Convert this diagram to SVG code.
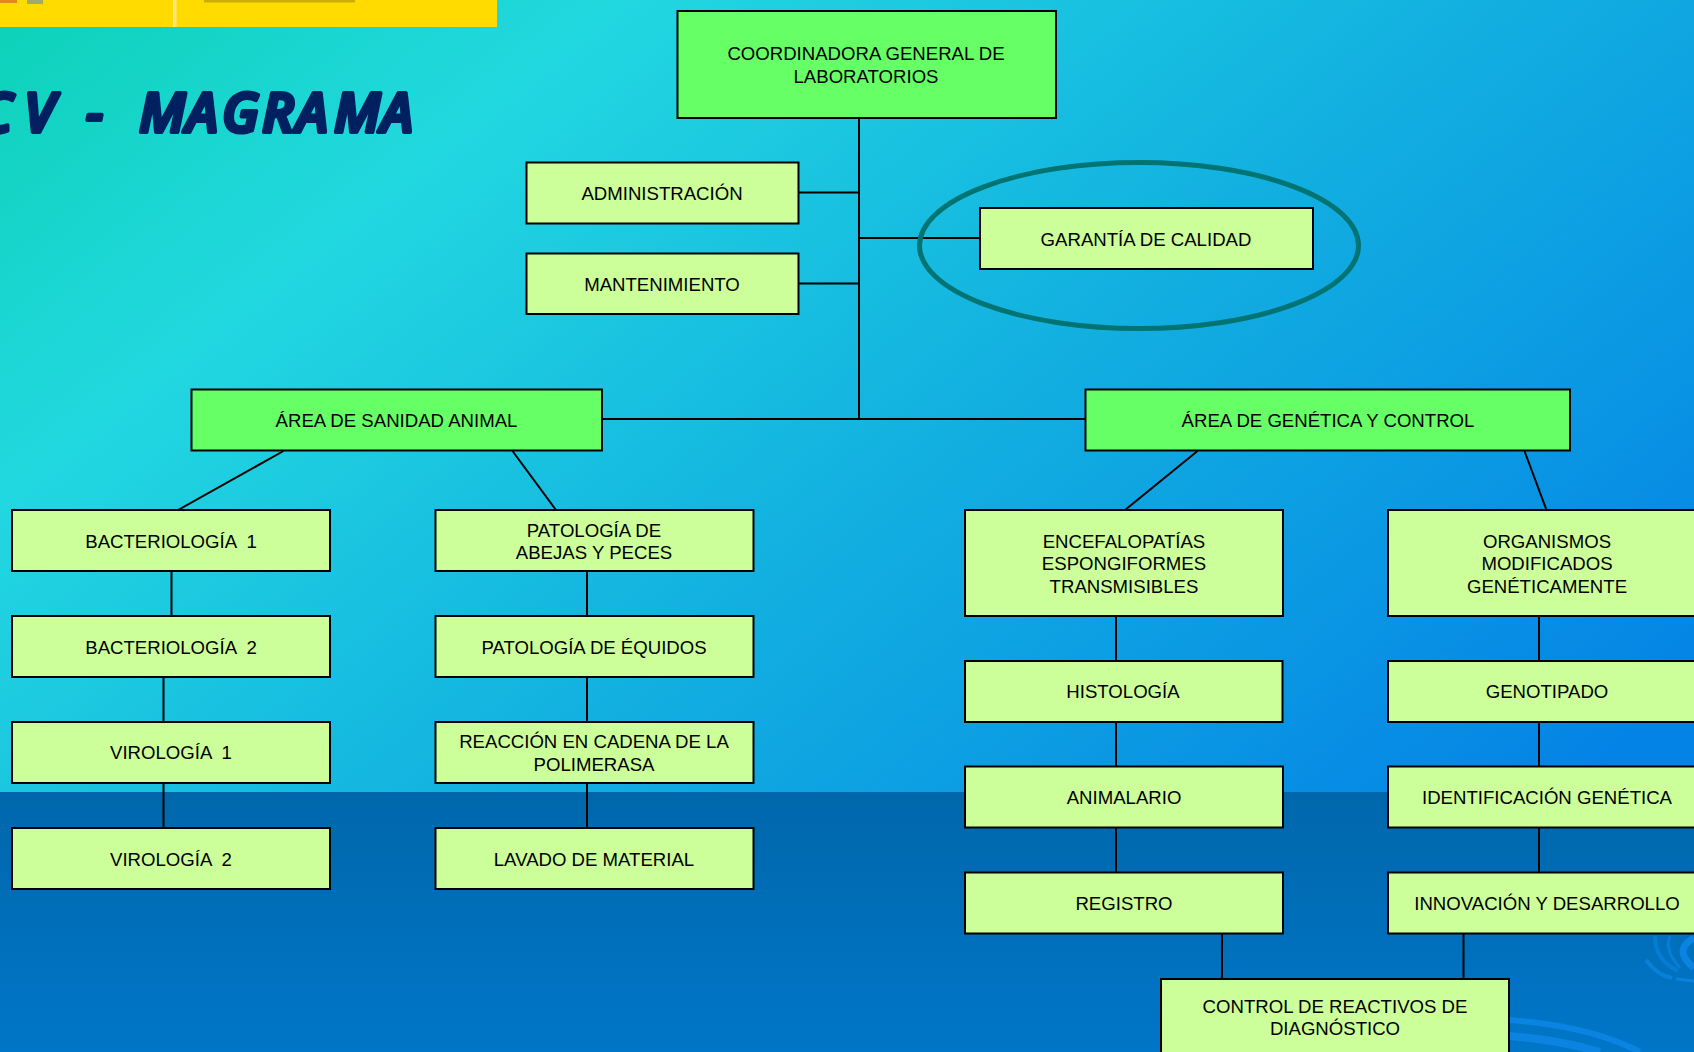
<svg xmlns="http://www.w3.org/2000/svg" width="1694" height="1052" viewBox="0 0 1694 1052">
<style>
.n{stroke:#000;stroke-width:2}
.a{fill:#66ff66}
.b{fill:#ccff99}
text.l{font-family:"Liberation Sans",Arial,sans-serif;font-size:18.6px;fill:#000;text-anchor:middle;white-space:pre}
.c{stroke:#000;stroke-width:2;fill:none}
.s{stroke:#0a84e0;fill:none}
</style>
<defs>
<linearGradient id="bg" gradientUnits="userSpaceOnUse" x1="0" y1="0" x2="1008" y2="1248">
<stop offset="0" stop-color="#0cd2b6"/><stop offset=".24" stop-color="#22d8e0"/><stop offset=".58" stop-color="#12b0e0"/><stop offset="1" stop-color="#0483e6"/>
</linearGradient>
<linearGradient id="low" x1="0" y1="0" x2="0" y2="1">
<stop offset="0" stop-color="#0067ab"/><stop offset="1" stop-color="#0076c8"/>
</linearGradient>
</defs>
<g id="background">
<rect width="1694" height="792" fill="url(#bg)"/>
<rect y="792" width="1694" height="260" fill="url(#low)"/>
<path class="s" stroke-width="6" d="M1509 1020Q1590 1026 1640 1052"/>
<path class="s" stroke-width="8" d="M1509 1036Q1560 1040 1600 1052"/>
<path class="s" stroke-width="4" d="M1646 960Q1658 976 1672 978" opacity=".8"/>
<path class="s" stroke-width="4" d="M1655 936Q1655 960 1678 971" opacity=".6"/>
<path class="s" stroke-width="3" d="M1670 936Q1664 950 1680 968" opacity=".7"/>
<path class="s" stroke-width="7" d="M1694 938Q1672 950 1694 968"/>
<path class="s" stroke-width="3" d="M1676 979L1694 981" opacity=".9"/>
</g>
<g id="banner">
<rect width="497" height="27" fill="#ffdb00"/>
<rect x="173" width="3.500" height="27" fill="#ffe680"/>
<rect y="0" width="17" height="3" fill="#d9661f" opacity=".7"/>
<rect x="27" y="0" width="16" height="4" fill="#8c9a8c" opacity=".8"/>
<rect x="204" y="0" width="151" height="2.500" fill="#6b5a10" opacity=".35"/>
</g>
<text id="title" y="132" font-family="'Open Sans',sans-serif" font-weight="600" font-style="italic" font-size="54" fill="#002060" stroke="#002060" stroke-width="4" stroke-linejoin="round" stroke-linecap="round" x="-20 24 60 86 120 139 186 222 262 296 334 381">CV - MAGRAMA</text>
<g id="connectors">
<path class="c" d="M859 118V419M798 192.500H859M859 238H980M798 283.500H859M602 419H1086"/>
<path class="c" d="M283.500 451L178 510M512.500 451L556 510M171.500 571V616M163.500 677V722M163.500 783V828M587 571V616M587 677V722M587 783V828"/>
<path class="c" d="M1197.500 451L1125 510M1524.500 451L1546.500 510M1116 616V661M1116 722V766M1116 827V872M1539 616V661M1539 722V766M1539 827V872M1222 933V979M1463.500 933V979"/>
</g>
<ellipse id="quality-ring" cx="1139" cy="245.500" rx="219.500" ry="83" fill="none" stroke="#007373" stroke-width="5"/>
<g id="coordinadora"><rect class="n a" x="677.500" y="11" width="378.500" height="107"/><text class="l" x="866" y="60">COORDINADORA GENERAL DE</text><text class="l" x="866" y="83">LABORATORIOS</text></g>
<g id="administracion"><rect class="n b" x="526.500" y="162.500" width="272" height="61"/><text class="l" x="662" y="200">ADMINISTRACIÓN</text></g>
<g id="mantenimiento"><rect class="n b" x="526.500" y="253.500" width="272" height="60.500"/><text class="l" x="662" y="291">MANTENIMIENTO</text></g>
<g id="garantia"><rect class="n b" x="980" y="208" width="333" height="61"/><text class="l" x="1146" y="246">GARANTÍA DE CALIDAD</text></g>
<g id="area-sanidad"><rect class="n a" x="191.500" y="389.500" width="410.500" height="61"/><text class="l" x="396.500" y="427">ÁREA DE SANIDAD ANIMAL</text></g>
<g id="area-genetica"><rect class="n a" x="1085.500" y="389.500" width="484.500" height="61"/><text class="l" x="1328" y="427">ÁREA DE GENÉTICA Y CONTROL</text></g>
<g id="bacteriologia-1"><rect class="n b" x="12" y="510" width="318" height="61"/><text class="l" x="171" y="548">BACTERIOLOGÍA  1</text></g>
<g id="bacteriologia-2"><rect class="n b" x="12" y="616" width="318" height="61"/><text class="l" x="171" y="654">BACTERIOLOGÍA  2</text></g>
<g id="virologia-1"><rect class="n b" x="12" y="722" width="318" height="61"/><text class="l" x="171" y="759">VIROLOGÍA  1</text></g>
<g id="virologia-2"><rect class="n b" x="12" y="828" width="318" height="61"/><text class="l" x="171" y="866">VIROLOGÍA  2</text></g>
<g id="patologia-abejas"><rect class="n b" x="435.500" y="510" width="318" height="61"/><text class="l" x="594" y="537">PATOLOGÍA DE</text><text class="l" x="594" y="559">ABEJAS Y PECES</text></g>
<g id="patologia-equidos"><rect class="n b" x="435.500" y="616" width="318" height="61"/><text class="l" x="594" y="654">PATOLOGÍA DE ÉQUIDOS</text></g>
<g id="pcr"><rect class="n b" x="435.500" y="722" width="318" height="61"/><text class="l" x="594" y="748">REACCIÓN EN CADENA DE LA</text><text class="l" x="594" y="771">POLIMERASA</text></g>
<g id="lavado"><rect class="n b" x="435.500" y="828" width="318" height="61"/><text class="l" x="594" y="866">LAVADO DE MATERIAL</text></g>
<g id="encefalopatias"><rect class="n b" x="965" y="510" width="318" height="106"/><text class="l" x="1124" y="548">ENCEFALOPATÍAS</text><text class="l" x="1124" y="570">ESPONGIFORMES</text><text class="l" x="1124" y="593">TRANSMISIBLES</text></g>
<g id="histologia"><rect class="n b" x="965" y="661" width="317.500" height="61"/><text class="l" x="1123" y="698">HISTOLOGÍA</text></g>
<g id="animalario"><rect class="n b" x="965" y="766.500" width="318" height="61"/><text class="l" x="1124" y="804">ANIMALARIO</text></g>
<g id="registro"><rect class="n b" x="965" y="872.500" width="318" height="61"/><text class="l" x="1124" y="910">REGISTRO</text></g>
<g id="organismos"><rect class="n b" x="1388" y="510" width="320" height="106"/><text class="l" x="1547" y="548">ORGANISMOS</text><text class="l" x="1547" y="570">MODIFICADOS</text><text class="l" x="1547" y="593">GENÉTICAMENTE</text></g>
<g id="genotipado"><rect class="n b" x="1388" y="661" width="320" height="61"/><text class="l" x="1547" y="698">GENOTIPADO</text></g>
<g id="identificacion"><rect class="n b" x="1388" y="766.500" width="320" height="61"/><text class="l" x="1547" y="804">IDENTIFICACIÓN GENÉTICA</text></g>
<g id="innovacion"><rect class="n b" x="1388" y="872.500" width="320" height="61"/><text class="l" x="1547" y="910">INNOVACIÓN Y DESARROLLO</text></g>
<g id="control-reactivos"><rect class="n b" x="1161" y="979" width="348" height="90"/><text class="l" x="1335" y="1013">CONTROL DE REACTIVOS DE</text><text class="l" x="1335" y="1035">DIAGNÓSTICO</text></g>
</svg>
